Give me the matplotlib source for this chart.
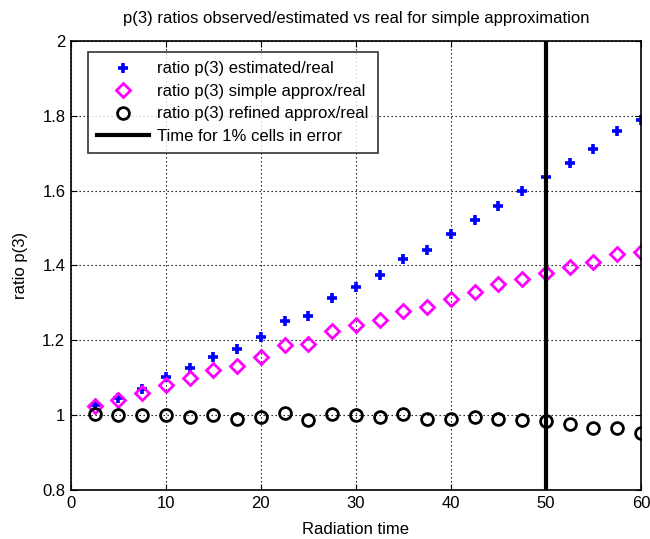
import matplotlib
matplotlib.use("Agg")
import matplotlib.pyplot as plt
import numpy as np

plt.rcParams['font.family'] = ['Liberation Sans', 'DejaVu Sans']

# radiation time steps
time = [2.5, 5, 7.5, 10, 12.5, 15, 17.5, 20, 22.5, 25, 27.5, 30,
        32.5, 35, 37.5, 40, 42.5, 45, 47.5, 50, 52.5, 55, 57.5, 60]

ratio_estimated = [1.027, 1.045, 1.071, 1.102, 1.127, 1.156, 1.176, 1.208,
                   1.251, 1.266, 1.314, 1.343, 1.374, 1.416, 1.441, 1.483,
                   1.521, 1.560, 1.599, 1.637, 1.673, 1.711, 1.760, 1.789]

ratio_simple = [1.025, 1.040, 1.060, 1.080, 1.100, 1.120, 1.132, 1.156,
                1.187, 1.190, 1.225, 1.241, 1.254, 1.279, 1.290, 1.310,
                1.328, 1.350, 1.364, 1.381, 1.397, 1.408, 1.431, 1.437]

ratio_refined = [1.003, 1.000, 1.000, 1.000, 0.996, 1.000, 0.990, 0.996,
                 1.006, 0.988, 1.003, 1.000, 0.996, 1.004, 0.989, 0.989,
                 0.994, 0.989, 0.987, 0.983, 0.976, 0.965, 0.965, 0.952]

error_time = 50

xticks = [0, 10, 20, 30, 40, 50, 60]
yticks = [0.8, 1.0, 1.2, 1.4, 1.6, 1.8, 2.0]
ytick_labels = ['0.8', '1', '1.2', '1.4', '1.6', '1.8', '2']

FS = 12

fig = plt.figure(figsize=(6.5, 5.39), dpi=100)
ax = fig.add_axes([0.109, 0.091, 0.877, 0.833])

ax.plot(time, ratio_estimated, linestyle='none', marker='+', markersize=7,
        markeredgewidth=2.6, color='#0000ff', label='ratio p(3) estimated/real')
ax.plot(time, ratio_simple, linestyle='none', marker='D', markersize=7.5,
        markeredgewidth=2, markerfacecolor='none', markeredgecolor='#ff00ff',
        label='ratio p(3) simple approx/real')
ax.plot(time, ratio_refined, linestyle='none', marker='o', markersize=8.5,
        markeredgewidth=2, markerfacecolor='none', markeredgecolor='black',
        label='ratio p(3) refined approx/real')
ax.axvline(error_time, color='black', linewidth=3,
           label='Time for 1% cells in error')

ax.set_xlim(0, 60)
ax.set_ylim(0.8, 2.0)
ax.set_xticks(xticks)
ax.set_yticks(yticks)
ax.set_yticklabels(ytick_labels)
ax.tick_params(direction='in', length=4, width=0.8, labelsize=FS,
               top=True, right=True, pad=4)
ax.grid(True, color='black', linestyle=(0, (1.2, 2.4)), linewidth=0.8)
for s in ax.spines.values():
    s.set_linewidth(1.2)

ax.set_title('p(3) ratios observed/estimated vs real for simple approximation',
             fontsize=FS, pad=13)
ax.set_xlabel('Radiation time', fontsize=FS, labelpad=8)
ax.set_ylabel('ratio p(3)', fontsize=FS, labelpad=10)

leg = ax.legend(loc='upper left', bbox_to_anchor=(0.03, 0.975), fontsize=FS,
                frameon=True, fancybox=False, edgecolor='black',
                borderpad=0.55, labelspacing=0.45, handlelength=3.1,
                handletextpad=0.5, borderaxespad=0)
leg.get_frame().set_linewidth(1.2)

fig.savefig('out.png', dpi=100)
